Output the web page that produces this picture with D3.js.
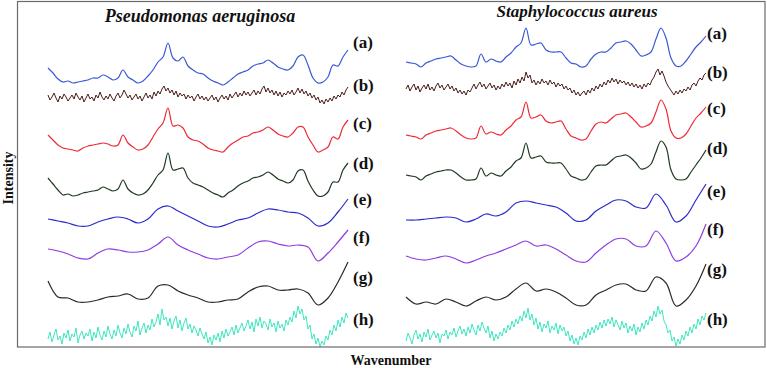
<!DOCTYPE html>
<html>
<head>
<meta charset="utf-8">
<script src="https://cdn.jsdelivr.net/npm/d3@7"></script>
<style>
  html, body { margin: 0; padding: 0; background: #fff; }
  svg { display: block; }
  text { font-family: "Liberation Serif", "Times New Roman", serif; font-weight: bold; fill: #111; }
</style>
</head>
<body>
<svg id="svg"></svg>
<script>
// spectra, intensity in a.u. (stacked), samples evenly spread over the wavenumber range
const panelTitles = ['Pseudomonas aeruginosa', 'Staphylococcus aureus'];
const seriesLabels = ['(a)', '(b)', '(c)', '(d)', '(e)', '(f)', '(g)', '(h)'];

// Pseudomonas aeruginosa
const paA = [279,274,268,265,266,264,265,266,267,269,269,272,270,267,269,277,270,267,264,266,271,277,285,290,304,289,286,290,281,277,274,273,269,266,264,262,265,269,273,275,277,281,283,284,287,284,280,278,277,281,290,292,282,269,264,265,270,282,281,290,297];
const paB = [252,247,250,254,249,245,251,248,253,250,246,249,252,248,254,250,247,251,245,249,
  253,248,250,246,252,249,255,250,247,251,248,253,249,246,251,254,249,252,257,253,
  249,252,247,250,253,248,251,246,250,254,249,252,248,255,251,256,253,258,261,256,
  259,254,257,252,256,250,254,251,253,248,252,249,251,246,250,253,248,251,247,250,
  246,249,252,247,250,245,249,252,248,251,247,253,249,252,255,250,254,251,256,252,
  255,251,254,257,252,256,253,258,261,255,259,254,257,252,256,251,255,250,254,252,
  256,253,257,252,255,259,254,258,253,256,251,254,249,252,247,250,244,247,243,248,
  245,249,246,251,248,252,250,255,252,257,260];
const paC = [212,207,202,199,198,197,196,199,201,202,203,204,203,201,202,212,204,200,197,198,202,210,218,224,239,221,222,219,210,207,206,203,199,197,196,195,200,204,207,210,211,214,215,217,220,217,213,211,210,214,220,220,210,202,195,197,200,210,208,220,227];
const paD = [169,163,157,152,153,151,152,154,155,156,157,160,158,156,158,167,158,154,152,153,157,164,172,177,194,177,178,179,169,164,162,160,157,154,152,150,154,157,161,164,166,169,170,172,175,172,168,166,164,167,176,177,166,157,151,151,155,165,165,177,184];
const paE = [128,126,124,121,121,125,128,130,128,124,128,138,141,136,131,126,121,120,123,127,129,134,138,137,135,134,129,121,124,135,148];
const paF = [98,96,93,89,88,94,98,97,95,95,97,103,110,102,97,93,89,88,90,92,99,105,106,103,101,102,100,86,94,105,117];
const paG = [66,50,49,45,45,47,50,51,53,48,49,61,62,56,52,49,45,45,47,48,55,60,61,57,57,58,54,42,49,65,85];
const paH = [8,15,5,12,18,7,11,3,14,9,17,6,13,10,19,4,12,16,8,14,
  11,18,6,15,9,20,12,7,16,10,21,13,8,17,11,22,14,9,19,13,
  23,15,10,21,16,26,12,19,24,14,22,17,28,20,25,33,22,38,27,30,
  21,29,18,26,31,19,27,16,24,29,18,23,14,21,17,11,19,13,8,15,
  4,10,2,12,7,14,5,16,9,18,11,15,20,12,22,14,19,24,16,21,
  27,18,25,15,28,21,30,19,26,23,17,28,20,24,15,26,19,23,16,27,
  22,30,25,36,29,41,33,38,27,31,18,22,8,13,3,9,0,6,2,11,
  7,17,12,22,16,27,20,30,24,34,29];

// Staphylococcus aureus
const saA = [285,284,283,280,284,286,288,289,290,291,287,283,281,280,281,293,285,288,286,285,290,294,300,304,319,302,303,304,297,295,295,295,289,284,283,280,281,288,293,295,295,299,304,305,306,303,297,291,292,295,308,319,309,289,281,281,286,293,300,305,311];
const saB = [258,262,256,260,263,257,261,255,259,262,258,263,257,260,256,261,264,259,262,257,
  260,263,258,261,256,259,254,257,253,256,252,257,255,259,263,258,262,265,260,263,
  258,261,264,259,262,257,261,258,263,260,265,261,264,259,266,262,268,264,270,266,
  275,269,272,264,267,262,266,263,268,264,266,262,267,263,265,260,264,261,263,258,
  261,257,259,254,257,252,255,251,254,256,252,257,254,259,256,261,258,263,260,265,
  262,267,264,269,265,268,263,267,264,266,262,265,261,264,260,263,259,262,258,263,
  260,264,262,267,270,275,278,272,276,271,265,261,258,255,252,256,253,257,254,258,
  256,260,257,262,264,261,266,269,267,272,274];
const saC = [212,211,210,208,212,214,216,217,218,219,216,212,209,208,209,221,213,215,213,212,217,221,227,230,245,229,230,232,226,224,225,226,218,211,209,207,208,216,223,225,224,228,232,233,234,230,225,220,221,224,235,247,238,216,209,209,213,221,229,234,240];
const saD = [172,171,170,167,171,173,175,176,177,177,174,170,167,167,168,179,171,174,172,171,176,180,186,189,204,189,190,191,185,184,184,184,178,171,169,167,168,175,181,182,182,186,190,191,192,189,184,178,179,183,195,206,200,177,168,167,168,175,182,189,197];
const saE = [127,127,128,129,130,129,125,128,133,131,135,144,146,144,142,140,134,126,127,136,142,147,146,140,139,153,142,125,131,147,163];
const saF = [91,88,87,89,91,88,84,87,91,94,98,102,106,101,102,98,92,86,85,94,102,108,108,101,101,116,104,86,90,101,123];
const saG = [50,43,45,43,48,45,41,46,50,47,50,58,64,56,58,55,49,42,42,52,57,62,63,57,56,70,64,41,47,61,83];
const saH = [6,14,9,3,12,17,8,13,5,15,10,18,7,12,16,9,14,4,13,11,
  17,8,15,12,19,10,16,21,13,18,11,20,14,23,17,12,22,16,25,19,
  14,21,9,16,6,13,8,15,11,19,14,22,17,26,20,28,23,31,26,36,
  29,39,27,33,22,29,18,25,15,23,19,26,14,21,17,24,13,22,16,20,
  11,16,6,12,3,9,2,11,7,15,9,18,12,20,14,22,17,25,19,27,
  21,28,23,30,20,27,22,17,26,19,24,14,21,16,23,12,20,15,24,18,
  27,22,31,26,36,30,41,33,37,26,22,14,17,6,10,1,8,3,12,7,
  16,11,20,14,23,18,28,22,31,27,34];

// label levels (a.u.)
const labelLevelL = [305, 262, 224, 184, 148, 110, 70, 28];
const labelLevelR = [314, 275, 239, 199, 156, 118, 78, 28];

const colors = ['#3a58d8', '#4a1c18', '#ee2a36', '#1f3b22', '#2b2bcc', '#8c3ee0', '#2a2a2a', '#3fe6bf'];
const noisy = [false, true, false, false, false, false, false, true];

const width = 767;
const height = 368;

const svg = d3.select('#svg')
  .attr('width', width)
  .attr('height', height);

svg.append('rect')
  .attr('width', width)
  .attr('height', height)
  .attr('fill', '#fff');

const y = d3.scaleLinear().domain([0, 346]).range([347, 1]);

const panels = [
  { title: panelTitles[0], series: [paA, paB, paC, paD, paE, paF, paG, paH], range: [48, 348], levels: labelLevelL, labelX: 353, titleX: 200, titleY: 22, titleSize: 18 },
  { title: panelTitles[1], series: [saA, saB, saC, saD, saE, saF, saG, saH], range: [406, 706], levels: labelLevelR, labelX: 707, titleX: 577, titleY: 17, titleSize: 17 }
];

svg.append('defs').append('clipPath').attr('id', 'plotclip')
  .append('rect').attr('x', 17).attr('y', 1).attr('width', 748).attr('height', 346);

const plot = svg.append('g').attr('clip-path', 'url(#plotclip)');

panels.forEach(p => {
  const x = d3.scaleLinear().domain([0, 1]).range(p.range);

  p.series.forEach((vals, i) => {
    const line = d3.line()
      .curve(noisy[i] ? d3.curveLinear : d3.curveCatmullRom)
      .x((d, k) => x(k / (vals.length - 1)))
      .y(d => y(d));

    plot.append('path')
      .attr('d', line(vals))
      .attr('fill', 'none')
      .attr('stroke', colors[i])
      .attr('stroke-width', noisy[i] ? 1 : 1.2)
      .attr('stroke-linejoin', 'round');

    svg.append('text')
      .attr('x', p.labelX)
      .attr('y', y(p.levels[i]))
      .attr('dy', '0.35em')
      .style('font-size', '17px')
      .text(seriesLabels[i]);
  });

  svg.append('text')
    .attr('x', p.titleX)
    .attr('y', p.titleY)
    .attr('text-anchor', 'middle')
    .style('font-size', p.titleSize + 'px')
    .style('font-style', 'italic')
    .text(p.title);
});

// frame
svg.append('rect')
  .attr('x', 17.5)
  .attr('y', 1.5)
  .attr('width', 747.5)
  .attr('height', 345.5)
  .attr('fill', 'none')
  .attr('stroke', '#6a6a6a')
  .attr('stroke-width', 1.2);

svg.append('text')
  .attr('x', 391)
  .attr('y', 365)
  .attr('text-anchor', 'middle')
  .style('font-size', '14px')
  .text('Wavenumber');

svg.append('text')
  .attr('transform', 'translate(13,178) rotate(-90)')
  .attr('text-anchor', 'middle')
  .style('font-size', '14px')
  .text('Intensity');
</script>
</body>
</html>
